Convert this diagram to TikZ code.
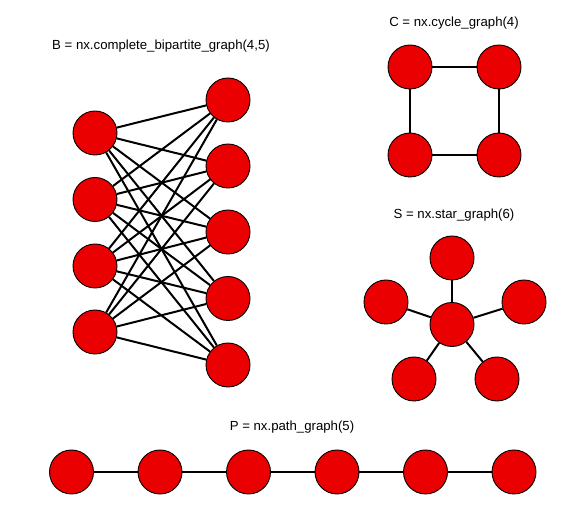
\documentclass[tikz,border=0pt]{standalone}
\usepackage{fontspec}
\setmainfont{Liberation Sans}
\definecolor{nodered}{RGB}{234,0,0}
\begin{document}
\begin{tikzpicture}[x=1pt,y=-1pt,
  vtx/.style={circle,draw=black,line width=0.9pt,fill=nodered,minimum size=44pt,inner sep=0pt},
  edge/.style={draw=black,line width=2pt},
  lbl/.style={font=\fontsize{13.2}{15}\selectfont,text=black,inner sep=0pt}]
\useasboundingbox (0,0) rectangle (579,510);
\fill[white] (0,0) rectangle (579,510);
% labels
\node[lbl] (lb) at (161,46) {B = nx.complete\_bipartite\_graph(4,5)};
\node[lbl] (lc) at (454,23) {C = nx.cycle\_graph(4)};
\node[lbl] (ls) at (454,215) {S = nx.star\_graph(6)};
\node[lbl] (lp) at (292,427) {P = nx.path\_graph(5)};
% bipartite nodes
\node[vtx] (a1) at (95,133) {};
\node[vtx] (a2) at (95,199.5) {};
\node[vtx] (a3) at (95,266) {};
\node[vtx] (a4) at (95,332) {};
\node[vtx] (b1) at (228,100) {};
\node[vtx] (b2) at (228,166) {};
\node[vtx] (b3) at (228,232) {};
\node[vtx] (b4) at (228,298.5) {};
\node[vtx] (b5) at (228,365) {};
% cycle nodes
\node[vtx] (c1) at (410,67) {};
\node[vtx] (c2) at (499,67) {};
\node[vtx] (c3) at (499,155) {};
\node[vtx] (c4) at (410,155) {};
% star nodes
\node[vtx] (s0) at (452,324.5) {};
\node[vtx] (s1) at (452,258) {};
\node[vtx] (s2) at (386,302) {};
\node[vtx] (s3) at (524,302) {};
\node[vtx] (s4) at (414,379) {};
\node[vtx] (s5) at (497,379) {};
% path nodes
\node[vtx] (p1) at (71.5,472) {};
\node[vtx] (p2) at (160,472) {};
\node[vtx] (p3) at (248.5,472) {};
\node[vtx] (p4) at (337,472) {};
\node[vtx] (p5) at (425.5,472) {};
\node[vtx] (p6) at (514,472) {};
% edges
\foreach \i in {1,...,4}{
  \foreach \j in {1,...,5}{
    \path[edge] (a\i) -- (b\j);
  }
}
\path[edge] (c1) -- (c2) -- (c3) -- (c4) -- (c1);
\foreach \k in {1,...,5}{ \path[edge] (s0) -- (s\k); }
\path[edge] (p1) -- (p2) -- (p3) -- (p4) -- (p5) -- (p6);
\end{tikzpicture}
\end{document}
